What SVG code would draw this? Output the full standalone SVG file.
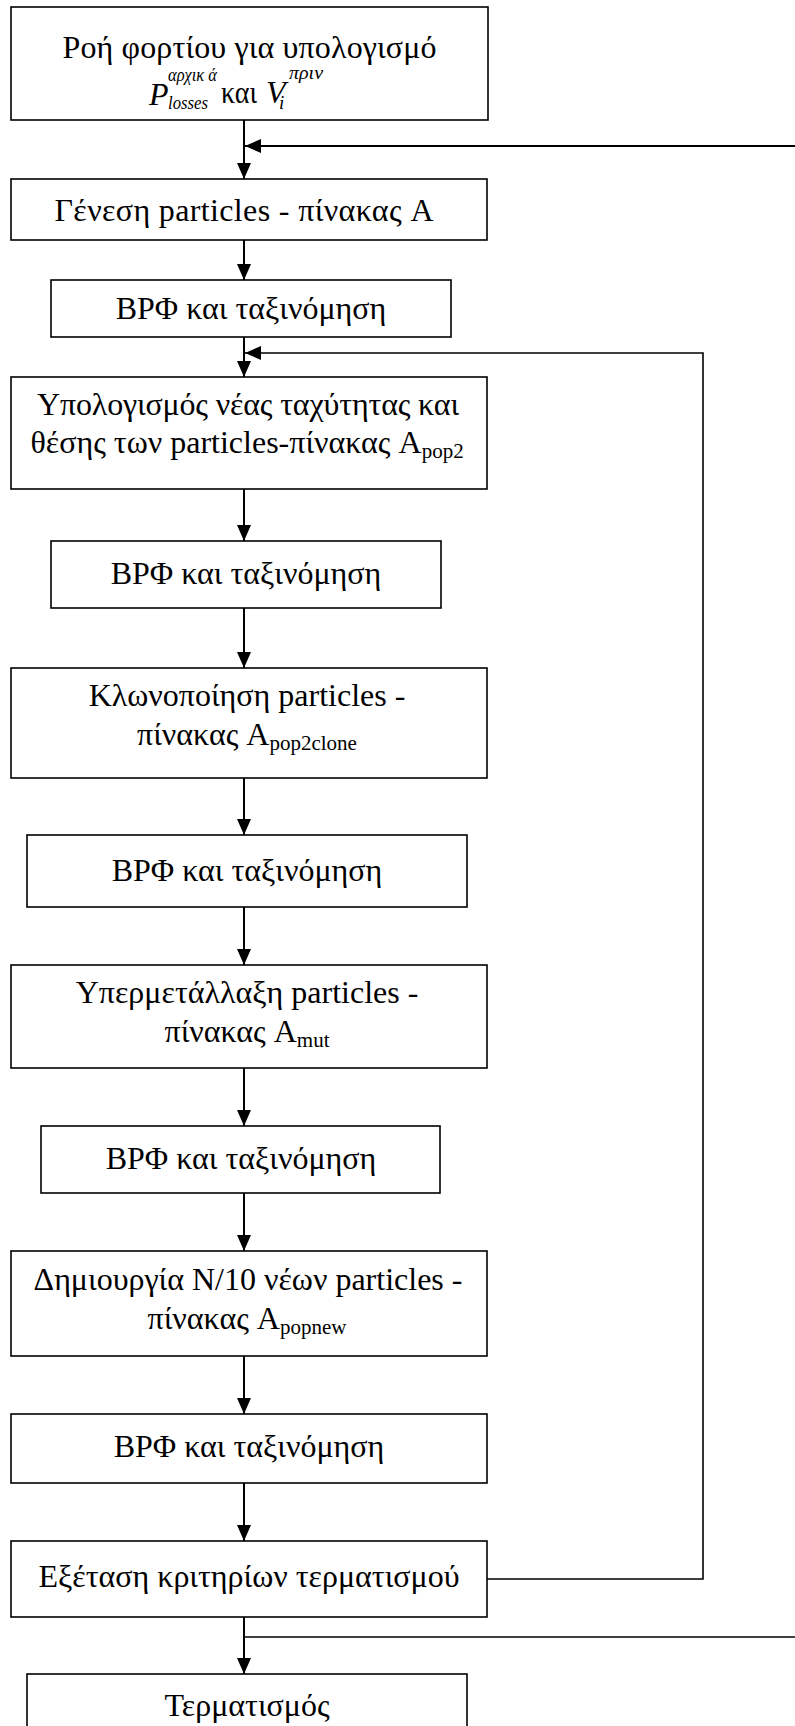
<svg xmlns="http://www.w3.org/2000/svg" width="795" height="1726" viewBox="0 0 795 1726">
<style>
.box{fill:#fff;stroke:#000;stroke-width:1.6}
.t{font-family:"Liberation Serif","Times New Roman",serif;font-size:32px;fill:#000;text-anchor:middle}
.ts{font-family:"Liberation Serif","Times New Roman",serif;font-size:32px;fill:#000;text-anchor:start}
.m{font-family:"Liberation Serif","Times New Roman",serif;font-style:italic;fill:#000}
.sub{font-size:21px}
.c{fill:none;stroke:#000;stroke-width:2}
.c2{fill:none;stroke:#000;stroke-width:1.6}
</style>
<defs>
<marker id="ah" markerUnits="userSpaceOnUse" markerWidth="16" markerHeight="16" viewBox="0 0 16 16" refX="16" refY="8" orient="auto">
<path d="M0,1 L16,8 L0,15 z" fill="#000"/>
</marker>
</defs>
<g id="connectors">
<line class="c" x1="244" y1="120" x2="244" y2="179" marker-end="url(#ah)"/>
<line class="c" x1="795" y1="146" x2="245" y2="146" marker-end="url(#ah)"/>
<line class="c" x1="244" y1="240" x2="244" y2="280" marker-end="url(#ah)"/>
<line class="c" x1="244" y1="337" x2="244" y2="377" marker-end="url(#ah)"/>
<path class="c2" d="M487,1579 H703 V353 H245" marker-end="url(#ah)"/>
<line class="c" x1="244" y1="489" x2="244" y2="541" marker-end="url(#ah)"/>
<line class="c" x1="244" y1="608" x2="244" y2="668" marker-end="url(#ah)"/>
<line class="c" x1="244" y1="778" x2="244" y2="835" marker-end="url(#ah)"/>
<line class="c" x1="244" y1="907" x2="244" y2="965" marker-end="url(#ah)"/>
<line class="c" x1="244" y1="1068" x2="244" y2="1126" marker-end="url(#ah)"/>
<line class="c" x1="244" y1="1193" x2="244" y2="1251" marker-end="url(#ah)"/>
<line class="c" x1="244" y1="1356" x2="244" y2="1414" marker-end="url(#ah)"/>
<line class="c" x1="244" y1="1483" x2="244" y2="1541" marker-end="url(#ah)"/>
<line class="c" x1="244" y1="1617" x2="244" y2="1674" marker-end="url(#ah)"/>
<line class="c2" x1="244" y1="1637" x2="795" y2="1637"/>
</g>
<g id="n1">
<rect class="box" x="11" y="7" width="477" height="113"/>
<text class="t" x="249.5" y="58" textLength="374" lengthAdjust="spacing">Ροή φορτίου για υπολογισμό</text>
<text class="m" font-size="32" x="149" y="105">P</text>
<text class="m" font-size="19" x="168" y="81" textLength="49" lengthAdjust="spacingAndGlyphs">αρχικ ά</text>
<text class="m" font-size="19" x="168" y="109" textLength="40" lengthAdjust="spacingAndGlyphs">losses</text>
<text class="ts" x="221" y="103" textLength="36" lengthAdjust="spacingAndGlyphs">και</text>
<text class="m" font-size="32" x="266" y="103">V</text>
<text class="m" font-size="19" x="279" y="109">i</text>
<text class="m" font-size="19" x="289" y="79" textLength="34" lengthAdjust="spacingAndGlyphs">πριν</text>
</g>
<g id="n2">
<rect class="box" x="11" y="179" width="476" height="61"/>
<text class="t" x="244" y="221" textLength="379" lengthAdjust="spacing">Γένεση particles - πίνακας A</text>
</g>
<g id="n3">
<rect class="box" x="51" y="280" width="400" height="57"/>
<text class="t" x="251" y="319">ΒΡΦ και ταξινόμηση</text>
</g>
<g id="n4">
<rect class="box" x="11" y="377" width="476" height="112"/>
<text class="t" x="248" y="415" textLength="422" lengthAdjust="spacing">Υπολογισμός νέας ταχύτητας και</text>
<text class="t" x="247" y="453">θέσης των particles-πίνακας A<tspan class="sub" dy="5">pop2</tspan></text>
</g>
<g id="n5">
<rect class="box" x="51" y="541" width="390" height="67"/>
<text class="t" x="246" y="584">ΒΡΦ και ταξινόμηση</text>
</g>
<g id="n6">
<rect class="box" x="11" y="668" width="476" height="110"/>
<text class="t" x="247" y="706">Κλωνοποίηση particles -</text>
<text class="t" x="247" y="745">πίνακας A<tspan class="sub" dy="5">pop2clone</tspan></text>
</g>
<g id="n7">
<rect class="box" x="27" y="835" width="440" height="72"/>
<text class="t" x="247" y="881">ΒΡΦ και ταξινόμηση</text>
</g>
<g id="n8">
<rect class="box" x="11" y="965" width="476" height="103"/>
<text class="t" x="247" y="1003">Υπερμετάλλαξη particles -</text>
<text class="t" x="247" y="1042">πίνακας A<tspan class="sub" dy="5">mut</tspan></text>
</g>
<g id="n9">
<rect class="box" x="41" y="1126" width="399" height="67"/>
<text class="t" x="241" y="1169">ΒΡΦ και ταξινόμηση</text>
</g>
<g id="n10">
<rect class="box" x="11" y="1251" width="476" height="105"/>
<text class="t" x="248" y="1290">Δημιουργία N/10 νέων particles -</text>
<text class="t" x="247" y="1329">πίνακας A<tspan class="sub" dy="5">popnew</tspan></text>
</g>
<g id="n11">
<rect class="box" x="11" y="1414" width="476" height="69"/>
<text class="t" x="249" y="1457">ΒΡΦ και ταξινόμηση</text>
</g>
<g id="n12">
<rect class="box" x="11" y="1541" width="476" height="76"/>
<text class="t" x="249" y="1587">Εξέταση κριτηρίων τερματισμού</text>
</g>
<g id="n13">
<rect class="box" x="27" y="1674" width="440" height="70"/>
<text class="t" x="247" y="1716">Τερματισμός</text>
</g>
</svg>
